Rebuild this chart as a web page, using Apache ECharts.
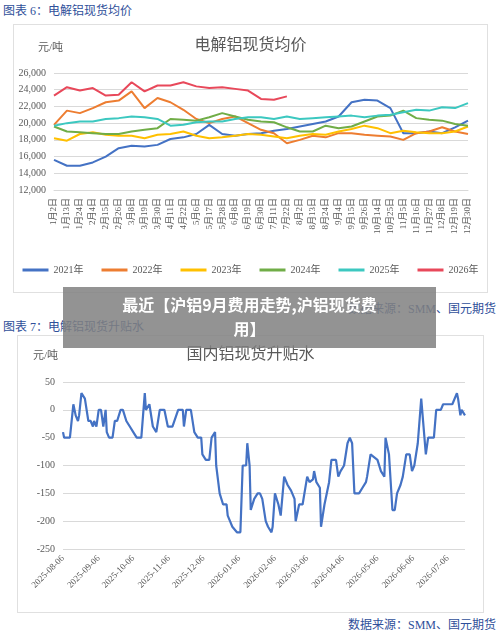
<!DOCTYPE html>
<html><head><meta charset="utf-8">
<script src="https://cdn.jsdelivr.net/npm/echarts@6/dist/echarts.min.js"></script>
<style>
body{margin:0;width:500px;height:637px;background:#fff;position:relative;overflow:hidden;font-family:"Liberation Serif","Noto Sans CJK SC",serif}
.h{position:absolute;color:#2f4f9a;font-size:12px}
.box{position:absolute;border:1px solid #e0e0e0}
#banner{position:absolute;left:63px;top:287px;width:373px;height:61px;background:rgba(128,128,128,0.85);color:#fff;font:bold 16px "Noto Sans CJK SC",sans-serif;text-align:center;line-height:24px;padding-top:5px;box-sizing:border-box;z-index:5}
.src{position:absolute;right:4px;color:#2f4f9a;font-size:12px}
</style></head><body>
<div class="h" style="left:3px;top:1px">图表 6：电解铝现货均价</div>
<div class="box" id="c1" style="left:13px;top:24px;width:473px;height:267px"></div>
<div class="src" style="top:299px">数据来源：SMM、国元期货</div>
<div id="banner">最近【沪铝9月费用走势,沪铝现货费<br>用】</div>
<div class="h" style="left:3px;top:317px">图表 7：电解铝现货升贴水</div>
<div class="box" id="c2" style="left:17px;top:335px;width:465px;height:276px"></div>
<div class="src" style="top:615px">数据来源：SMM、国元期货</div>
<script>
const dayLabels=['1月2日','1月13日','1月24日','2月4日','2月15日','2月26日','3月8日','3月19日','3月30日','4月11日','4月22日','5月6日','5月17日','5月28日','6月8日','6月19日','6月30日','7月11日','7月22日','8月2日','8月13日','8月24日','9月4日','9月15日','9月26日','10月14日','10月25日','11月5日','11月16日','11月27日','12月8日','12月19日','12月30日'];
const y2021=[15600,14900,14900,15300,16000,17000,17300,17200,17400,18100,18300,18700,19800,18700,18500,18700,18800,19100,19300,19600,19900,20200,20800,22500,22800,22700,21800,18800,18800,19000,18800,19500,20300];
const y2022=[19800,21500,21200,21800,22500,22700,23800,21800,23000,22500,21600,20500,20000,20500,20800,20000,19200,18800,17600,18000,18500,18300,18800,18800,18600,18500,18400,18000,18800,19000,19500,19000,18700];
const y2023=[18200,17900,18700,18900,18600,18500,18500,18200,18600,18700,19000,18500,18200,18300,18500,18700,18600,18400,18200,18500,18700,18600,19000,19300,19700,19400,18800,19100,18900,18800,18800,19000,19600];
const y2024=[19600,19000,18900,18800,18700,18700,19000,19200,19400,20500,20400,20300,20700,21200,20800,20400,20200,20100,19500,19000,19000,19700,19400,19600,20200,20800,20900,21500,20600,20400,20300,19900,19700];
const y2025=[19700,20000,20200,20200,20500,20600,20800,20700,20500,19700,19800,20100,20200,20200,20500,20700,20700,20500,20800,20500,20600,20700,20800,20900,20700,20900,21000,21300,21600,21500,21900,21800,22400];
const y2026=[23300,24300,23900,24200,23300,23400,24900,23800,24500,24500,24900,24400,24200,24300,24100,23900,22900,22800,23200];
const yearNames=['2021年','2022年','2023年','2024年','2025年','2026年'];
const colors=['#4472c4','#ed7d31','#ffc000','#70ad47','#3cc8c0','#e8485a'];

const startDate='2025-08-06';
const basisDays=[0,1,6,7,9,11,13,14,16,19,22,24,26,27,29,31,33,35,37,38,40,43,45,47,50,52,55,58,61,64,68,71,72,75,78,81,84,88,91,95,100,104,105,107,111,114,117,120,121,124,127,129,132,133,136,139,142,143,145,147,151,154,156,159,160,162,163,166,169,171,173,176,178,181,182,184,187,189,192,195,198,201,202,205,208,212,214,217,218,220,223,224,227,231,233,237,239,241,244,247,249,251,253,257,260,263,264,267,270,273,276,279,280,283,286,288,290,293,295,298,301,303,305,308,311,315,317,322,324,328,330,338,342,343,345,346,349];
const basisVals=[-40,-50,-50,-30,10,-10,-20,-10,30,20,-20,-20,-30,-20,-30,0,0,-30,0,-40,-50,-50,-20,-20,0,0,-20,-30,-40,-50,-50,30,0,10,-30,-40,0,0,-30,-30,0,0,-30,0,0,-40,-50,-50,-80,-90,-90,-50,-40,-100,-150,-170,-170,-190,-200,-210,-220,-220,-100,-100,-60,-100,-180,-160,-150,-150,-160,-200,-210,-220,-210,-150,-170,-190,-120,-135,-145,-160,-200,-170,-170,-120,-130,-125,-110,-130,-140,-210,-170,-130,-90,-90,-120,-110,-100,-60,-50,-60,-150,-150,-140,-130,-120,-80,-85,-90,-110,-120,-50,-80,-180,-180,-150,-135,-120,-80,-80,-110,-100,-60,20,-80,-50,-50,0,0,10,10,30,20,-10,0,-10];

const ser=f=>({fontFamily:'Liberation Serif, Noto Sans CJK SC, serif',color:'#595959',...f});
const c1=echarts.init(document.getElementById('c1'));
const all=[y2021,y2022,y2023,y2024,y2025,y2026];
c1.setOption({
 animation:false,
 title:{text:'电解铝现货均价',left:'center',top:8,textStyle:ser({fontSize:16,fontWeight:'normal'})},
 graphic:[{type:'text',left:24,top:18,style:{text:'元/吨',font:'11px Liberation Serif, Noto Sans CJK SC',fill:'#595959'}}],
 legend:{bottom:12,itemWidth:26,itemHeight:3,itemGap:18,icon:'rect',textStyle:ser({fontSize:10})},
 grid:{left:40,right:19,top:48,bottom:102},
 xAxis:{type:'category',data:dayLabels,boundaryGap:false,axisLine:{lineStyle:{color:'#d9d9d9'}},axisTick:{show:false},
  axisLabel:{rotate:90,interval:0,fontSize:9,color:'#595959',fontFamily:'Liberation Serif, Noto Sans CJK SC'}},
 yAxis:{type:'value',min:12000,max:26000,interval:2000,axisLabel:{fontSize:10,color:'#595959',fontFamily:'Liberation Serif'},splitLine:{lineStyle:{color:'#d9d9d9'}}},
 series:all.map((d,i)=>({name:yearNames[i],type:'line',data:d,showSymbol:false,lineStyle:{width:2,color:colors[i]},itemStyle:{color:colors[i]}}))
});

const cats=[],vals=[];
const s=new Date(startDate+'T00:00:00Z');
for(let i=0;i<=349;i++){const d=new Date(s.getTime()+i*86400000);cats.push(d.toISOString().slice(0,10));vals.push(null);}
basisDays.forEach((d,i)=>{vals[d]=basisVals[i];});
const c2=echarts.init(document.getElementById('c2'));
c2.setOption({
 animation:false,
 title:{text:'国内铝现货升贴水',left:'center',top:6,textStyle:ser({fontSize:16,fontWeight:'normal'})},
 graphic:[{type:'text',left:15,top:15,style:{text:'元/吨',font:'11px Liberation Serif, Noto Sans CJK SC',fill:'#595959'}}],
 grid:{left:45,right:18,top:46,bottom:63},
 xAxis:{type:'category',data:cats,boundaryGap:false,axisLine:{show:false},axisTick:{show:false},
  axisLabel:{rotate:45,fontSize:9,color:'#595959',fontFamily:'Liberation Serif',interval:(i,v)=>v.endsWith('-06')}},
 yAxis:{type:'value',min:-250,max:50,interval:50,axisLabel:{fontSize:10,color:'#595959',fontFamily:'Liberation Serif'},splitLine:{lineStyle:{color:'#d9d9d9'}}},
 series:[{type:'line',data:vals,connectNulls:true,showSymbol:false,lineStyle:{width:2.2,color:'#4472c4'}}]
});
</script></body></html>
